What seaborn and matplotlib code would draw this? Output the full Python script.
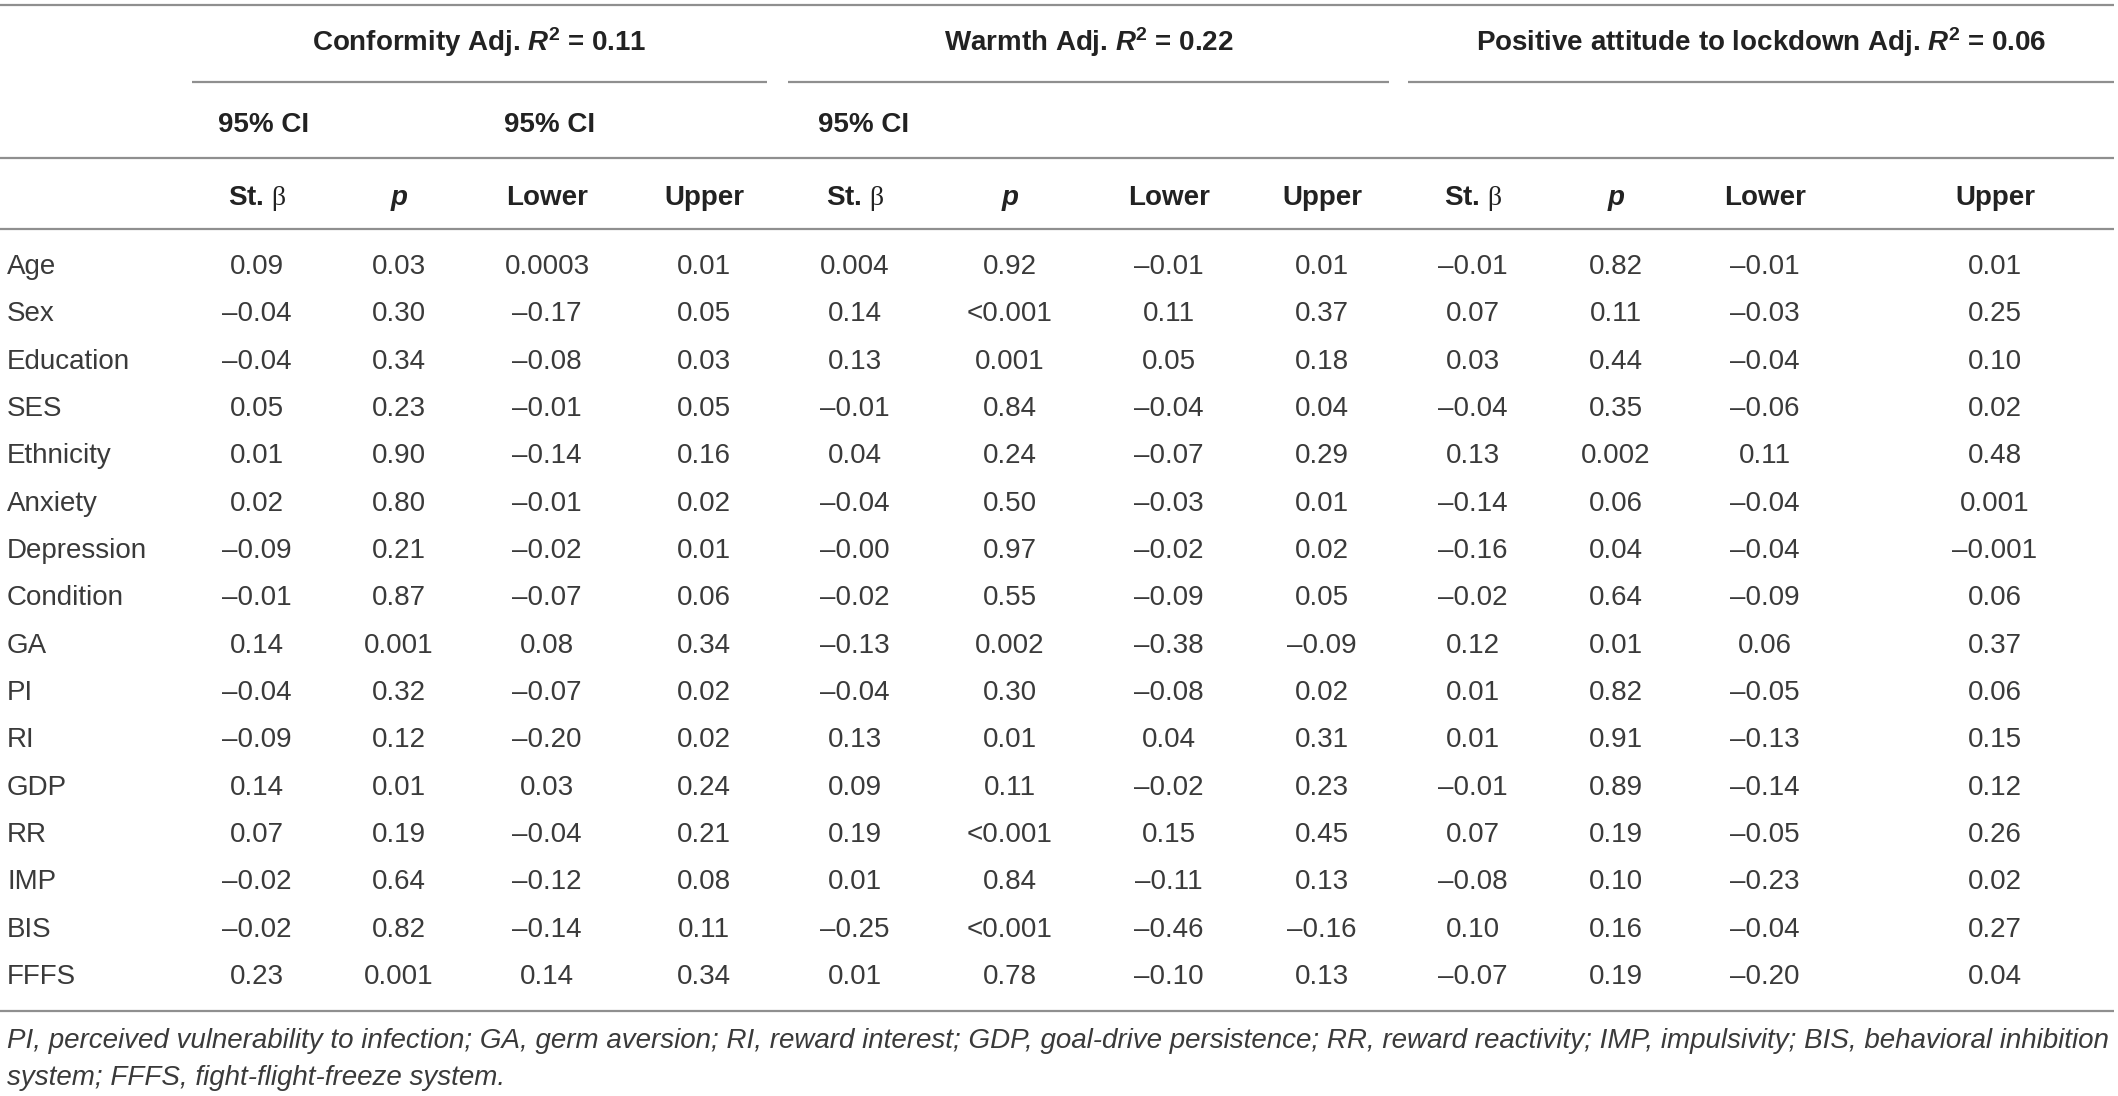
import matplotlib
matplotlib.use("Agg")
import matplotlib.pyplot as plt
import seaborn as sns

# table content
predictors = ["Age", "Sex", "Education", "SES", "Ethnicity", "Anxiety", "Depression",
              "Condition", "GA", "PI", "RI", "GDP", "RR", "IMP", "BIS", "FFFS"]

conformity_beta = ["0.09", "–0.04", "–0.04", "0.05", "0.01", "0.02", "–0.09", "–0.01",
                   "0.14", "–0.04", "–0.09", "0.14", "0.07", "–0.02", "–0.02", "0.23"]
conformity_p = ["0.03", "0.30", "0.34", "0.23", "0.90", "0.80", "0.21", "0.87",
                "0.001", "0.32", "0.12", "0.01", "0.19", "0.64", "0.82", "0.001"]
conformity_lower = ["0.0003", "–0.17", "–0.08", "–0.01", "–0.14", "–0.01", "–0.02", "–0.07",
                    "0.08", "–0.07", "–0.20", "0.03", "–0.04", "–0.12", "–0.14", "0.14"]
conformity_upper = ["0.01", "0.05", "0.03", "0.05", "0.16", "0.02", "0.01", "0.06",
                    "0.34", "0.02", "0.02", "0.24", "0.21", "0.08", "0.11", "0.34"]

warmth_beta = ["0.004", "0.14", "0.13", "–0.01", "0.04", "–0.04", "–0.00", "–0.02",
               "–0.13", "–0.04", "0.13", "0.09", "0.19", "0.01", "–0.25", "0.01"]
warmth_p = ["0.92", "<0.001", "0.001", "0.84", "0.24", "0.50", "0.97", "0.55",
            "0.002", "0.30", "0.01", "0.11", "<0.001", "0.84", "<0.001", "0.78"]
warmth_lower = ["–0.01", "0.11", "0.05", "–0.04", "–0.07", "–0.03", "–0.02", "–0.09",
                "–0.38", "–0.08", "0.04", "–0.02", "0.15", "–0.11", "–0.46", "–0.10"]
warmth_upper = ["0.01", "0.37", "0.18", "0.04", "0.29", "0.01", "0.02", "0.05",
                "–0.09", "0.02", "0.31", "0.23", "0.45", "0.13", "–0.16", "0.13"]

lockdown_beta = ["–0.01", "0.07", "0.03", "–0.04", "0.13", "–0.14", "–0.16", "–0.02",
                 "0.12", "0.01", "0.01", "–0.01", "0.07", "–0.08", "0.10", "–0.07"]
lockdown_p = ["0.82", "0.11", "0.44", "0.35", "0.002", "0.06", "0.04", "0.64",
              "0.01", "0.82", "0.91", "0.89", "0.19", "0.10", "0.16", "0.19"]
lockdown_lower = ["–0.01", "–0.03", "–0.04", "–0.06", "0.11", "–0.04", "–0.04", "–0.09",
                  "0.06", "–0.05", "–0.13", "–0.14", "–0.05", "–0.23", "–0.04", "–0.20"]
lockdown_upper = ["0.01", "0.25", "0.10", "0.02", "0.48", "0.001", "–0.001", "0.06",
                  "0.37", "0.06", "0.15", "0.12", "0.26", "0.02", "0.27", "0.04"]

group_titles = [r"Conformity Adj. $\mathbfit{R}^{\mathbf{2}}$ = 0.11",
                r"Warmth Adj. $\mathbfit{R}^{\mathbf{2}}$ = 0.22",
                r"Positive attitude to lockdown Adj. $\mathbfit{R}^{\mathbf{2}}$ = 0.06"]
col_labels = [r"St. $\mathrm{\beta}$", "p", "Lower", "Upper"] * 3
ci_label = "95% CI"
footnote = ["PI, perceived vulnerability to infection; GA, germ aversion; RI, reward interest; "
            "GDP, goal-drive persistence; RR, reward reactivity; IMP, impulsivity; BIS, behavioral inhibition",
            "system; FFFS, fight-flight-freeze system."]

columns = [conformity_beta, conformity_p, conformity_lower, conformity_upper,
           warmth_beta, warmth_p, warmth_lower, warmth_upper,
           lockdown_beta, lockdown_p, lockdown_lower, lockdown_upper]

# look
sns.set_theme(style="white")
plt.rcParams["font.family"] = ["Liberation Sans", "DejaVu Sans"]
plt.rcParams["mathtext.fontset"] = "custom"
plt.rcParams["mathtext.rm"] = "Liberation Serif"
plt.rcParams["mathtext.bf"] = "Liberation Sans:bold"
plt.rcParams["mathtext.it"] = "Liberation Sans:italic"
plt.rcParams["mathtext.bfit"] = "Liberation Sans:italic:bold"

W, H = 2118, 1096
fs = 20
head_color = "#222222"
body_color = "#3a3a3a"
rule_color = "#8f8f8f"
rule_lw = 1.6

# layout (pixel space)
col_x = [257, 399, 547, 704, 855, 1010, 1169, 1322, 1473, 1616, 1765, 1995]
group_spans = [(192, 767), (788, 1389), (1408, 2114)]
ci_x = [264, 550, 864]
row_y0, row_step = 274, 47.33

fig = plt.figure(figsize=(W / 100, H / 100), dpi=100)
ax = fig.add_axes([0, 0, 1, 1])
ax.set_xlim(0, W)
ax.set_ylim(H, 0)
ax.axis("off")

# rules
for y in (5, 158, 229, 1011):
    ax.hlines(y, 0, 2114, color=rule_color, lw=rule_lw)
for x0, x1 in group_spans:
    ax.hlines(82, x0, x1, color=rule_color, lw=rule_lw)

# group headers
for (x0, x1), title in zip(group_spans, group_titles):
    ax.text((x0 + x1) / 2, 51, title, ha="center", va="baseline",
            fontsize=fs, fontweight="bold", color=head_color)

for x in ci_x:
    ax.text(x, 132, ci_label, ha="center", va="baseline",
            fontsize=fs, fontweight="bold", color=head_color)

for x, lab in zip(col_x, col_labels):
    ax.text(x, 205, lab, ha="center", va="baseline", fontsize=fs,
            fontweight="bold", color=head_color,
            fontstyle="italic" if lab == "p" else "normal")

# body
for i, name in enumerate(predictors):
    y = row_y0 + i * row_step
    ax.text(7, y, name, ha="left", va="baseline", fontsize=fs, color=body_color)
    for x, col in zip(col_x, columns):
        ax.text(x, y, col[i], ha="center", va="baseline", fontsize=fs, color=body_color)

# footnote
for y, line in zip((1048, 1085), footnote):
    ax.text(7, y, line, ha="left", va="baseline", fontsize=fs,
            fontstyle="italic", color=body_color)

fig.savefig("out.png", dpi=100)
